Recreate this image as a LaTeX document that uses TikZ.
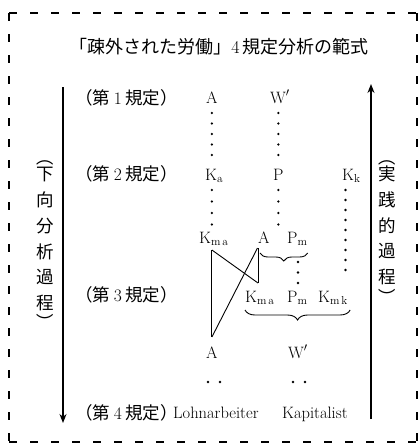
\documentclass[tikz,border=0pt]{standalone}
\usepackage{fontspec}
\newfontfamily\cjk{Noto Sans CJK JP}
\usetikzlibrary{arrows.meta,decorations.pathreplacing,calc}
\begin{document}
\begin{tikzpicture}[x=1pt,y=1pt,
  lat/.style={inner sep=0pt, anchor=base west, font=\fontsize{16.5}{20}\selectfont},
  jp/.style={inner sep=0pt, font=\cjk\fontsize{17.5}{20}\selectfont},
  vparen/.style={jp, rotate=-90},
  dotrow/.style={line width=2.6pt, line cap=round, dash pattern=on 0pt off #1},
  link/.style={line width=0.9pt},
  brc/.style={decorate, decoration={brace, mirror, amplitude=#1}, line width=0.9pt},
  arr/.style={line width=1.3pt, -{Stealth[length=9pt,width=7pt]}},
  frame/.style={line width=1.6pt, dash pattern=on 8pt off 13pt}]
\useasboundingbox (0,0) rectangle (419,-448);
% frame
\draw[frame] (9,-13) -- (417,-13);
\draw[frame, line width=1.4pt] (9,-13) -- (9,-442);
\draw[frame, line width=1.4pt] (417,-13) -- (417,-442);
\draw[frame, line width=2.6pt] (9,-442) -- (417,-442);
% title
\node[jp, anchor=base, font=\cjk\fontsize{18}{20}\selectfont] (title) at (219,-53) {「疎外された労働」{\rmfamily 4}\hspace{3pt}規定分析の範式};
% row labels
\node[jp, anchor=base east] (d1) at (178,-104) {（第\hspace{3.5pt}{\rmfamily 1}\hspace{3.5pt}規定）};
\node[jp, anchor=base east] (d2) at (178,-180) {（第\hspace{3.5pt}{\rmfamily 2}\hspace{3.5pt}規定）};
\node[jp, anchor=base east] (d3) at (178,-301) {（第\hspace{3.5pt}{\rmfamily 3}\hspace{3.5pt}規定）};
\node[jp, anchor=base east] (d4) at (178,-419) {（第\hspace{3.5pt}{\rmfamily 4}\hspace{3.5pt}規定）};
% terms
\node[lat] (A1) at (206,-103) {A};
\node[lat] (W1) at (270,-103) {W$'$};
\node[lat] (Ka) at (205,-180) {K$_{\mathrm{a}}$};
\node[lat] (P) at (273,-180) {P};
\node[lat] (Kk) at (342,-180) {K$_{\mathrm{k}}$};
\node[lat] (Kma1) at (199,-243) {K$_{\mathrm{m\,a}}$};
\node[lat] (A2) at (258,-243) {A};
\node[lat] (Pm2) at (287,-243) {P$_{\mathrm{m}}$};
\node[lat] (Kma3) at (245,-302) {K$_{\mathrm{m\,a}}$};
\node[lat] (Pm3) at (287,-302) {P$_{\mathrm{m}}$};
\node[lat] (Kmk) at (318,-302) {K$_{\mathrm{m\,k}}$};
\node[lat] (A4) at (206,-358) {A};
\node[lat] (W4) at (288,-358) {W$'$};
\node[lat] (Lohn) at (173,-418) {Lohnarbeiter};
\node[lat] (Kap) at (282,-418) {Kapitalist};
% dotted links
\draw[dotrow=10.5pt] ($(A1.base)+(0,-10)$) -- ($(A1.base |- Ka.base)+(0,25)$);
\draw[dotrow=10.5pt] ($(P.base |- W1.base)+(0,-10)$) -- ($(P.base)+(0,25)$);
\draw[dotrow=11.5pt] ($(A1.base |- Ka.base)+(0,-10)$) -- ($(A1.base |- Kma1.base)+(0,18.5)$);
\draw[dotrow=11.5pt] ($(P.base)+(0,-10)$) -- ($(P.base |- A2.base)+(0,18.5)$);
\draw[dotrow=10pt] ($(Kk.base west)+(3.5,-10)$) -- ($(Kk.base west |- Kmk.base)+(3.5,22)$);
\draw[dotrow=10.5pt] ($(Pm3.base west)+(11,40)$) -- ($(Pm3.base west)+(11,19)$);
% braces
\draw[brc=8pt] ($(A2.base west)+(2,-10)$) -- ($(Pm2.base east)+(0,-10)$);
\draw[brc=10pt] ($(Kma3.base west)+(0,-8)$) -- ($(Kmk.base east)+(2,-8)$);
% solid links
\draw[link] ($(A4.base |- Kma1.base)+(0,-7)$) -- ($(A4.base)+(0,21)$);
\draw[link] ($(A4.base |- Kma1.base)+(0,-7)$) -- ($(Kma3.base west)+(13,19)$);
\draw[link] ($(A2.base west)+(-0.5,-5)$) -- ($(A4.base)+(0,21)$);
\draw[link] ($(A2.base west)+(0,-5)$) -- ($(Kma3.base west)+(13,19)$);
% pairs of dots
\fill ($(A4.base)+(-4,-24)$) circle (1.4);
\fill ($(A4.base)+(8,-24)$) circle (1.4);
\fill ($(W4.base west)+(5,-24)$) circle (1.4);
\fill ($(W4.base west)+(17,-24)$) circle (1.4);
% process arrows
\coordinate (Ltop) at (63,-87);
\coordinate (Lbot) at (63,-423);
\draw[arr] (Ltop) -- (Lbot);
\coordinate (Rbot) at (371,-419);
\coordinate (Rtop) at (371,-84);
\draw[arr] (Rbot) -- (Rtop);
% vertical texts
\node[vparen] (Lo) at (45,-157) {（};
\foreach \c [count=\i] in {下,向,分,析,過,程}
  \node[jp] (L\i) at (45,{-174-25.8*(\i-1)}) {\c};
\node[vparen] (Lc) at (45,-322) {）};
\node[vparen] (Ro) at (387,-157) {（};
\foreach \c [count=\i] in {実,践,的,過,程}
  \node[jp] (R\i) at (387,{-174-25.8*(\i-1)}) {\c};
\node[vparen] (Rc) at (387,-297) {）};
\end{tikzpicture}
\end{document}
